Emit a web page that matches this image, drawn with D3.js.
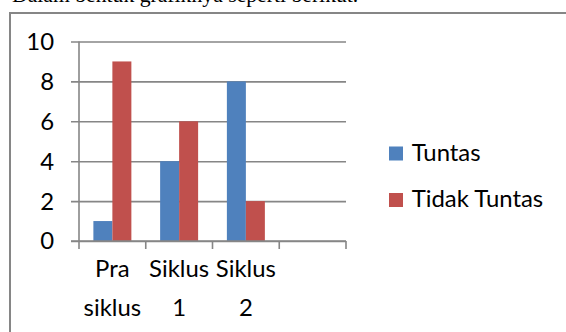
<!DOCTYPE html>
<html>
<head>
<meta charset="utf-8">
<script src="https://cdn.jsdelivr.net/npm/d3@7"></script>
<style>
  body { margin: 0; background: #fff; }
</style>
</head>
<body>
<div id="okvir"></div>
<script>
// podaci
const kategorije = ["Pra siklus", "Siklus 1", "Siklus 2", ""]
const tuntas = [1, 4, 8, null]
const tidakTuntas = [9, 6, 2, null]
const serije = ["Tuntas", "Tidak Tuntas"]
const yOznake = [0, 2, 4, 6, 8, 10]
const naslov = "Dalam bentuk grafiknya seperti berikut."

function crtajGraf() {
  const sirina = 566
  const visina = 332
  const boje = d3.scaleOrdinal().domain(serije).range(["#4f81bd", "#c0504d"])
  const siva = "#868686"

  const svg = d3.select("#okvir")
    .append("svg")
      .attr("width", sirina)
      .attr("height", visina)
      .style("font-family", "Lato, Carlito, sans-serif")

  // velicina fonta prema sirini teksta legende
  const proba = svg.append("text").style("font-size", "100px").text("Tidak Tuntas")
  const fontVel = 131.6 / proba.node().getComputedTextLength() * 100
  proba.remove()

  // odrezani tekst iznad grafa (u originalu se vidi samo donji rub)
  svg.append("text")
    .attr("x", 12)
    .attr("y", 1.5)
    .style("font-family", "'Liberation Serif', 'Times New Roman', serif")
    .style("font-size", "21.7px")
    .text(naslov)

  // okvir
  svg.append("rect")
    .attr("x", 10).attr("y", 13)
    .attr("width", 600).attr("height", 400)
    .attr("fill", "none")
    .attr("stroke", siva)
    .attr("stroke-width", 2)

  // razmjeri
  const x = d3.scaleBand().domain(kategorije).range([79, 346])
  const x1 = d3.scaleBand().domain(serije).range([0, x.bandwidth()]).paddingOuter(0.757)
  const y = d3.scaleLinear().domain([0, 10]).range([241, 41.5])

  // y os s mrezom
  const yOs = d3.axisLeft(y)
    .tickValues(yOznake)
    .tickSize(346 - 71)
    .tickPadding(17)
  svg.append("g")
    .attr("transform", "translate(346,0)")
    .call(yOs)
    .attr("font-family", null)
    .attr("font-size", null)
    .call(g => g.select(".domain").remove())
    .call(g => g.selectAll(".tick line").attr("stroke", siva).attr("stroke-width", 1.6))
    .call(g => g.selectAll(".tick text")
      .attr("fill", "#000")
      .attr("dy", "0.33em")
      .style("font-size", fontVel + "px"))

  // stupci
  const podaci = kategorije.map((k, i) => ({ k, vrijednosti: [tuntas[i], tidakTuntas[i]] }))
  svg.append("g")
    .selectAll("g")
    .data(podaci)
    .join("g")
      .attr("transform", d => `translate(${x(d.k)},0)`)
    .selectAll("rect")
    .data(d => serije.map((s, j) => ({ s, v: d.vrijednosti[j] })).filter(d => d.v != null))
    .join("rect")
      .attr("x", d => x1(d.s))
      .attr("width", x1.bandwidth())
      .attr("y", d => y(d.v))
      .attr("height", d => y(0) - y(d.v))
      .attr("fill", d => boje(d.s))

  // x os
  svg.append("line")
    .attr("x1", 71).attr("x2", 346)
    .attr("y1", y(0)).attr("y2", y(0))
    .attr("stroke", siva).attr("stroke-width", 1.6)
  svg.append("line")
    .attr("x1", x(kategorije[0])).attr("x2", x(kategorije[0]))
    .attr("y1", y(10)).attr("y2", y(0))
    .attr("stroke", siva).attr("stroke-width", 1.6)
  const granice = kategorije.map(k => x(k)).concat([x.range()[1]])
  svg.selectAll(".xtick")
    .data(granice)
    .join("line")
      .attr("class", "xtick")
      .attr("x1", d => d).attr("x2", d => d)
      .attr("y1", y(0)).attr("y2", y(0) + 8)
      .attr("stroke", siva).attr("stroke-width", 1.6)

  // oznake kategorija
  svg.selectAll(".kat")
    .data(kategorije.filter(k => k !== ""))
    .join("text")
      .attr("class", "kat")
      .attr("text-anchor", "middle")
      .style("font-size", fontVel + "px")
    .selectAll("tspan")
    .data(k => k.split(" ").map(r => ({ k, r })))
    .join("tspan")
      .attr("x", d => x(d.k) + x.bandwidth() / 2)
      .attr("y", (d, i) => 277 + i * 39)
      .text(d => d.r)

  // legenda
  const legenda = svg.append("g")
    .selectAll("g")
    .data(serije)
    .join("g")
      .attr("transform", (d, i) => `translate(389,${153.5 + i * 46.5})`)
  legenda.append("rect")
    .attr("x", 0).attr("y", -7)
    .attr("width", 14).attr("height", 14)
    .attr("fill", d => boje(d))
  legenda.append("text")
    .attr("x", 22.7)
    .attr("y", 7)
    .style("font-size", fontVel + "px")
    .text(d => d)
}
crtajGraf()
</script>
</body>
</html>
